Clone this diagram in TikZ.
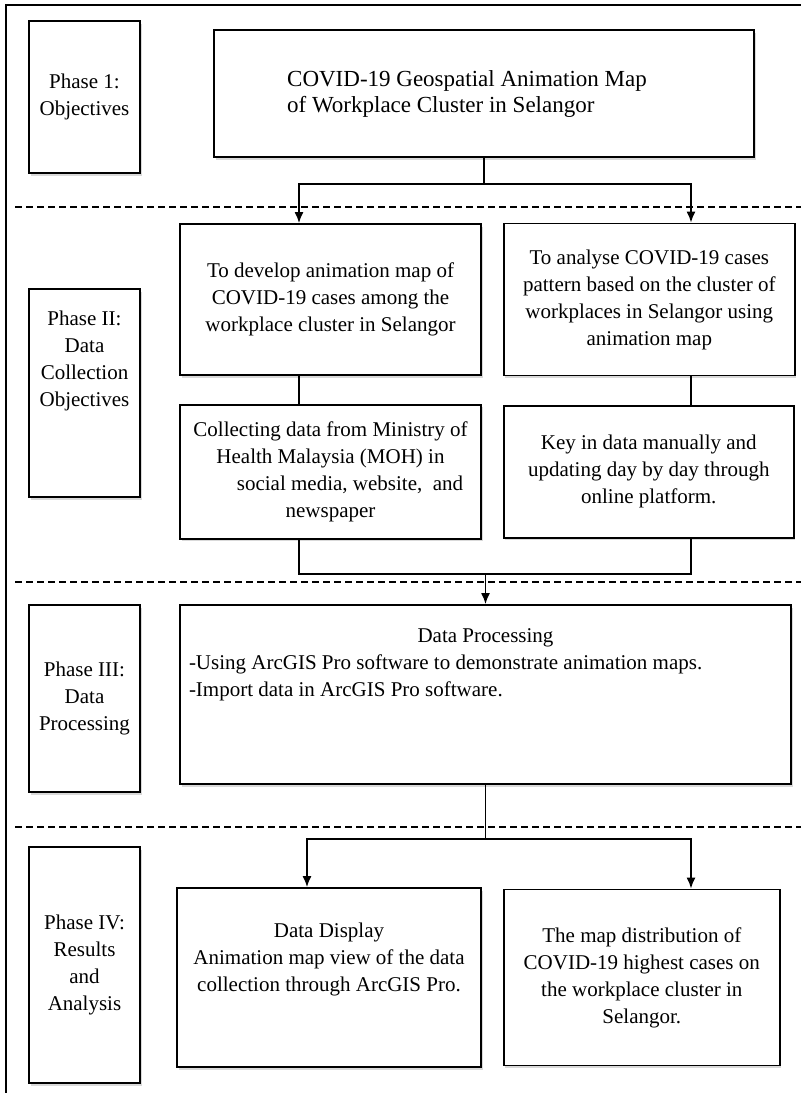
\documentclass[tikz,border=0pt]{standalone}
\usepackage{fontspec}
\setmainfont{Liberation Serif}
\usepackage{tikz}
\usetikzlibrary{arrows.meta,positioning,calc,shadows}

\begin{document}
\begin{tikzpicture}[x=1pt,y=1pt,>={Latex[length=11pt,width=9pt]},node distance=28pt]
  \tikzstyle{box}=[draw,line width=1.8pt,fill=white,align=center,font=\fontsize{21}{27}\selectfont,
    drop shadow={shadow xshift=1.5pt,shadow yshift=-2.5pt,opacity=.3}]
  \tikzstyle{phase}=[box,minimum width=111pt]
  \tikzstyle{divider}=[dash pattern=on 7pt off 4pt,line width=1.8pt]
  \tikzstyle{conn}=[line width=1.6pt]
  \useasboundingbox (0,0) rectangle (801,-1093);
  % frame and phase dividers
  \draw[line width=2.6pt] (6,-1093) -- (6,-5) -- (801,-5);
  \draw[divider] (15,-207) -- (801,-207);
  \draw[divider] (15,-582) -- (801,-582);
  \draw[divider] (15,-827) -- (801,-827);
  % phase labels
  \node[phase,minimum height=152pt] (phaseA) at (84.5,-97) {Phase 1:\\Objectives};
  \node[phase,minimum height=208pt,text depth=68pt] (phaseB) at (84.5,-393) {Phase II:\\Data\\Collection\\Objectives};
  \node[phase,minimum height=187pt] (phaseC) at (84.5,-698.5) {Phase III:\\Data\\Processing};
  \node[phase,minimum height=236pt] (phaseD) at (84.5,-965) {Phase IV:\\Results\\and\\Analysis};
  % flow
  \node[box,font=\fontsize{23}{26}\selectfont,align=left,minimum width=540pt,minimum height=127pt] (title) at (484,-93.5)
  {COVID-19 Geospatial Animation Map\hspace*{34pt}\\of Workplace Cluster in Selangor};
  \node[box,minimum width=301pt,minimum height=151pt] (goalA) at (330.5,-299.5)
  {To develop animation map of\\COVID-19 cases among the\\workplace cluster in Selangor};
  \node[box,minimum width=291pt,minimum height=152pt,right=21pt of goalA] (goalB)
  {To analyse COVID-19 cases\\pattern based on the cluster of\\workplaces in Selangor using\\animation map};
  \node[box,minimum width=301pt,minimum height=134pt,below=of goalA] (collectA)
  {Collecting data from Ministry of\\Health Malaysia (MOH) in\\\hspace*{39pt}social media, website,\ \ and\\newspaper};
  \node[box,minimum width=290pt,minimum height=132pt,right=21pt of collectA] (collectB)
  {Key in data manually and\\updating day by day through\\online platform.};
  \node[box,minimum width=611pt,minimum height=179pt,text depth=64pt] (proc) at (485.5,-694.5)
  {Data Processing\\\makebox[593pt][l]{-Using ArcGIS Pro software to demonstrate animation maps.}\\\makebox[593pt][l]{-Import data in ArcGIS Pro software.}};
  \node[box,minimum width=304pt,minimum height=179pt,text depth=41pt] (display) at (329,-977.5)
  {Data Display\\Animation map view of the data\\collection through ArcGIS Pro.};
  \node[box,minimum width=276pt,minimum height=176pt,right=21pt of display] (mapout)
  {The map distribution of\\COVID-19 highest cases on\\the workplace cluster in\\Selangor.};
  % connectors
  \coordinate (colL) at (299,0);
  \coordinate (colR) at (691,0);
  \coordinate (colD) at (307,0);
  \draw[conn] (title.south) -- ++(0,-26) coordinate (forkA);
  \draw[conn,->] (forkA) -| (goalA.north -| colL);
  \draw[conn,->] (forkA) -| (goalB.north -| colR);
  \draw[conn] (goalA.south -| colL) -- (collectA.north -| colL);
  \draw[conn] (goalB.south -| colR) -- (collectB.north -| colR);
  \draw[conn] (collectA.south -| colL) -- ++(0,-34) coordinate (joinB) -| (collectB.south -| colR);
  \draw[conn,->] (joinB -| proc.north) -- (proc.north);
  \draw[conn] (proc.south) -- ++(0,-54) coordinate (forkC);
  \draw[conn,->] (forkC) -| (display.north -| colD);
  \draw[conn,->] (forkC) -| (mapout.north -| colR);
\end{tikzpicture}
\end{document}
